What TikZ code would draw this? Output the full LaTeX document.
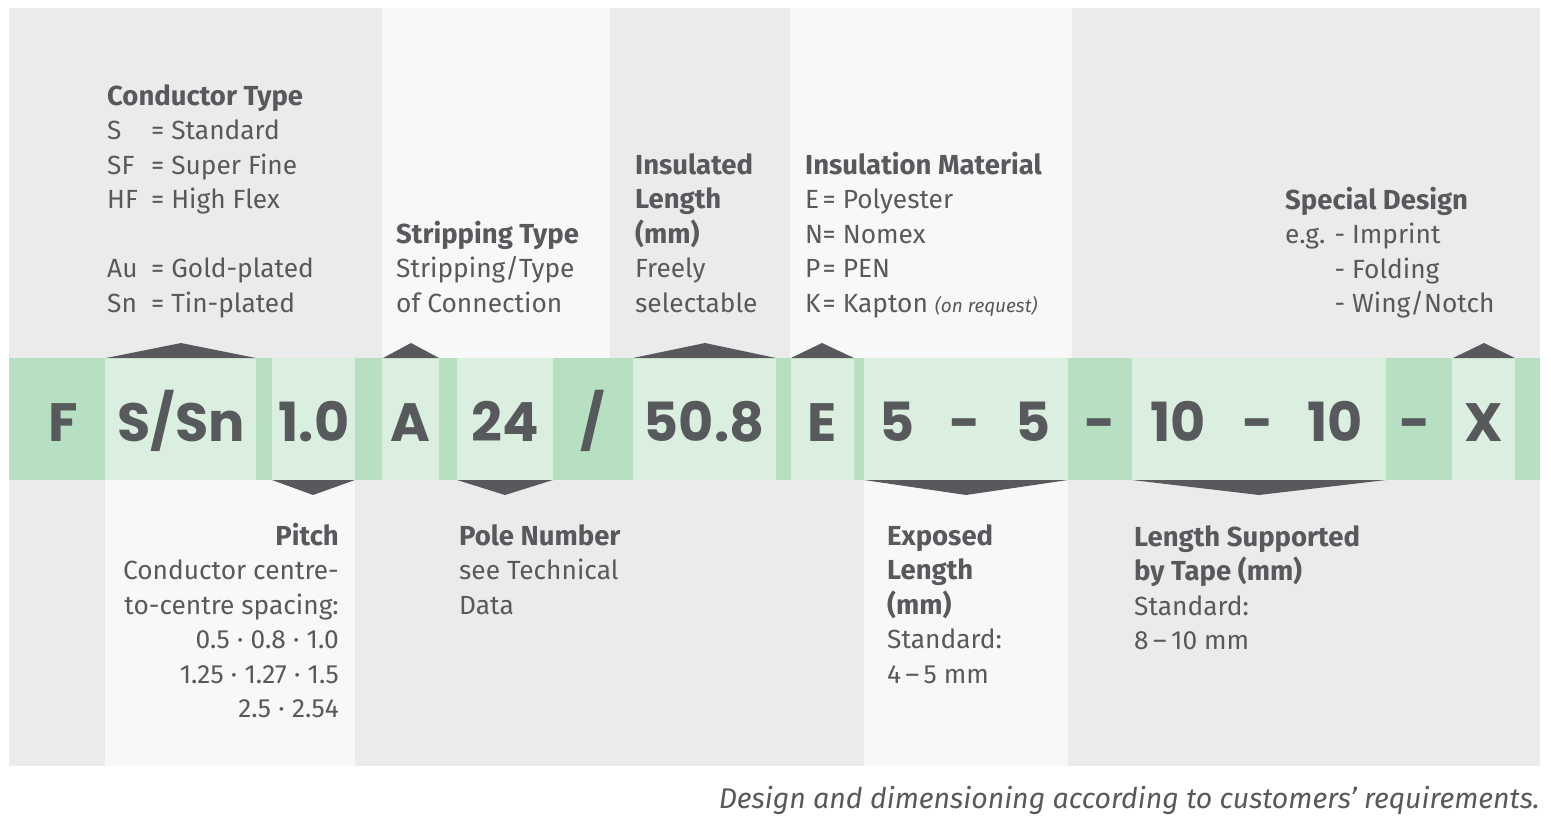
\documentclass[tikz,border=0pt]{standalone}
\usepackage{fontspec}
\setmainfont{Fira Sans}
\newfontfamily\bandfont{Poppins}
\definecolor{panelA}{HTML}{EBEBEB}
\definecolor{panelB}{HTML}{F8F8F8}
\definecolor{gDark}{HTML}{B7E0C2}
\definecolor{gLight}{HTML}{DAEFDF}
\definecolor{ink}{HTML}{58595D}
\newcommand\cabbr[1]{\makebox[44pt][l]{#1}}
\newcommand\iabbr[1]{\makebox[17.5pt][l]{#1}}
\newcommand\hd[1]{{\fontsize{27.5}{34.5}\selectfont\bfseries #1}}
\tikzset{
  band/.style={font=\bandfont\bfseries\fontsize{54}{54}\selectfont, text=ink, anchor=base, inner sep=0pt},
  info/.style={font=\fontsize{26.3}{34.5}\selectfont, text=ink, align=left, anchor=base west, inner sep=0pt},
  inforight/.style={font=\fontsize{26.3}{34.5}\selectfont, text=ink, align=right, anchor=base east, inner sep=0pt},
  roof/.style={fill=ink},
}
\begin{document}
\begin{tikzpicture}[x=1pt,y=-1pt]
\useasboundingbox (0,0) rectangle (1551,828);
\fill[white] (0,0) rectangle (1551,828);
% top panels
\fill[panelA] (9,8) rectangle (382,358);
\fill[panelB] (382,8) rectangle (610,358);
\fill[panelA] (610,8) rectangle (790,358);
\fill[panelB] (790,8) rectangle (1072,358);
\fill[panelA] (1072,8) rectangle (1540,358);
% bottom panels
\fill[panelA] (9,480) rectangle (105,766);
\fill[panelB] (105,480) rectangle (355,766);
\fill[panelA] (355,480) rectangle (864,766);
\fill[panelB] (864,480) rectangle (1068,766);
\fill[panelA] (1068,480) rectangle (1540,766);
% band
\fill[gDark] (9,358) rectangle (1540,480);
\foreach \a/\b in {105/256,272/355,382/439,457/553,633/776,791/854,864/1068,1132/1386,1452/1515}
  \fill[gLight] (\a,358) rectangle (\b,480);
% roofs (top)
\fill[roof] (106,358) -- (181,343) -- (256,358) -- cycle;
\fill[roof] (383,358) -- (411,343) -- (439,358) -- cycle;
\fill[roof] (633,358) -- (705,343) -- (776,358) -- cycle;
\fill[roof] (791,358) -- (822,343) -- (854,358) -- cycle;
\fill[roof] (1453,358) -- (1484,343) -- (1515,358) -- cycle;
% roofs (bottom)
\fill[roof] (272,480) -- (313,495) -- (355,480) -- cycle;
\fill[roof] (457,480) -- (505,495) -- (553,480) -- cycle;
\fill[roof] (864,480) -- (966,495) -- (1068,480) -- cycle;
\fill[roof] (1132,480) -- (1259,495) -- (1386,480) -- cycle;
% band labels
\node[band] (bF) at (63,441) {F};
\node[band] (bS) at (181,441) {S/Sn};
\node[band] (bP) at (314,441) {1.0};
\node[band] (bA) at (410,441) {A};
\node[band] (bN) at (505,441) {24};
\node[band] (bSl) at (593,441) {/};
\node[band] (bL) at (704,441) {50.8};
\node[band] (bE) at (822,441) {E};
\node[band] (b5a) at (897,441) {5};
\node[band] (bd1) at (965,441) {-};
\node[band] (b5b) at (1033,441) {5};
\node[band] (bd2) at (1100,441) {-};
\node[band] (b10a) at (1178,441) {10};
\node[band] (bd3) at (1258,441) {-};
\node[band] (b10b) at (1335,441) {10};
\node[band] (bd4) at (1415,441) {-};
\node[band] (bX) at (1484,441) {X};
% top texts (anchor = baseline of last line)
\node[info] (tCond) at (107,312) {\hd{Conductor Type}\\
  \cabbr{S}= Standard\\ \cabbr{SF}= Super Fine\\ \cabbr{HF}= High Flex\\[34.5pt]
  \cabbr{Au}= Gold-plated\\ \cabbr{Sn}= Tin-plated};
\node[info] (tStrip) at (396,312) {\hd{Stripping Type}\\ Stripping/Type\\ of Connection};
\node[info] (tIns) at (635,312) {\hd{Insulated}\\ \hd{Length}\\ \hd{(mm)}\\ Freely\\ selectable};
\node[info] (tMat) at (805,312) {\hd{Insulation Material}\\ \iabbr{E}= Polyester\\ \iabbr{N}= Nomex\\ \iabbr{P}= PEN\\
  \iabbr{K}= Kapton {\fontsize{19}{20}\selectfont\itshape (on request)}};
\node[info] (tSpec) at (1285,312.5) {\hd{Special Design}\\ e.g. - Imprint\\ \phantom{e.g. }- Folding\\ \phantom{e.g. }- Wing/Notch};
% bottom texts
\node[inforight] (bPitch) at (339,717.5) {\hd{Pitch}\\ Conductor centre-\\ to-centre spacing:\\
  0.5\;·\;0.8\;·\;1.0\\ 1.25\;·\;1.27\;·\;1.5\\ 2.5\;·\;2.54};
\node[info] (bPole) at (459,614) {\hd{Pole Number}\\ see Technical\\ Data};
\node[info] (bExp) at (887,683) {\hd{Exposed}\\ \hd{Length}\\ \hd{(mm)}\\ Standard:\\ 4\,–\,5 mm};
\node[info] (bTape) at (1134,649.5) {\hd{Length Supported}\\ \hd{by Tape (mm)}\\ Standard:\\ 8\,–\,10 mm};
% footer
\node[font=\fontsize{28.5}{30}\selectfont\itshape, text=ink, anchor=base east, inner sep=0pt] (foot) at (1540,808)
  {Design and dimensioning according to customers’ requirements.};
\end{tikzpicture}
\end{document}
